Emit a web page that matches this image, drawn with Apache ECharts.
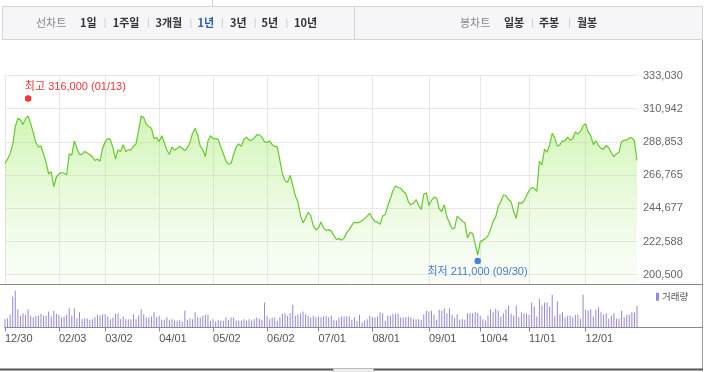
<!DOCTYPE html>
<html><head><meta charset="utf-8">
<script src="https://cdn.jsdelivr.net/npm/echarts@6/dist/echarts.min.js"></script>
<style>html,body{margin:0;padding:0;background:#fff}#c{width:706px;height:372px}</style>
</head><body><div id="c"></div><script>
// ---------- data ----------
const dates = ['12/30',
'01/03','01/04','01/05','01/06','01/07','01/10','01/11','01/12','01/13','01/14','01/17','01/18','01/19','01/20','01/21','01/24','01/25','01/26','01/27','01/28',
'02/03','02/04','02/07','02/08','02/09','02/10','02/11','02/14','02/15','02/16','02/17','02/18','02/21','02/22','02/23','02/24','02/25','02/28',
'03/02','03/03','03/04','03/07','03/08','03/10','03/11','03/14','03/15','03/16','03/17','03/18','03/21','03/22','03/23','03/24','03/25','03/28','03/29','03/30','03/31',
'04/01','04/04','04/05','04/06','04/07','04/08','04/11','04/12','04/13','04/14','04/15','04/18','04/19','04/20','04/21','04/22','04/25','04/26','04/27','04/28','04/29',
'05/02','05/03','05/04','05/06','05/09','05/10','05/11','05/12','05/13','05/16','05/17','05/18','05/19','05/20','05/23','05/24','05/25','05/26','05/27','05/30','05/31',
'06/02','06/03','06/07','06/08','06/09','06/10','06/13','06/14','06/15','06/16','06/17','06/20','06/21','06/22','06/23','06/24','06/27','06/28','06/29','06/30',
'07/01','07/04','07/05','07/06','07/07','07/08','07/11','07/12','07/13','07/14','07/15','07/18','07/19','07/20','07/21','07/22','07/25','07/26','07/27','07/28','07/29',
'08/01','08/02','08/03','08/04','08/05','08/08','08/09','08/10','08/11','08/12','08/16','08/17','08/18','08/19','08/22','08/23','08/24','08/25','08/26','08/29','08/30','08/31',
'09/01','09/02','09/05','09/06','09/07','09/08','09/13','09/14','09/15','09/16','09/19','09/20','09/21','09/22','09/23','09/26','09/27','09/28','09/29','09/30',
'10/04','10/05','10/06','10/07','10/11','10/12','10/13','10/14','10/17','10/18','10/19','10/20','10/21','10/24','10/25','10/26','10/27','10/28','10/31',
'11/01','11/02','11/03','11/04','11/07','11/08','11/09','11/10','11/11','11/14','11/15','11/16','11/17','11/18','11/21','11/22','11/23','11/24','11/25','11/28','11/29','11/30',
'12/01','12/02','12/05','12/06','12/07','12/08','12/09','12/12','12/13','12/14','12/15','12/16','12/19','12/20','12/21','12/22','12/23','12/26','12/27','12/28','12/29'];

const closes = [
274500,277500,281000,287000,299000,304500,303500,300500,304500,306000,
301000,295000,288500,285500,286000,281000,275000,267500,269000,259000,
265500,267500,268500,268000,267000,281000,280000,289500,284500,280500,
280500,282500,281500,280500,279000,276500,277500,276000,284500,289000,
291000,290500,285000,277500,283500,282500,287000,282500,283500,283500,
286000,287500,296500,306000,305000,300500,299000,298000,291000,292000,
289000,293000,288500,283500,280500,285500,283500,284500,286000,284500,
283000,285000,288500,294500,298000,293500,286000,283500,279000,289500,
293000,291000,291000,290500,285500,281000,276000,274000,274500,280500,
285500,287500,286000,290500,292000,290000,290000,291500,293500,293500,
292000,289000,288500,289500,287000,286000,285500,276500,267500,263000,
262000,266500,260000,253000,249000,240000,235000,238000,242000,240000,
233000,230500,231500,235500,231500,230000,230500,229500,226500,224000,
224500,223500,225000,228500,230500,233500,235500,235000,235500,236500,
238000,239500,241500,238000,236000,235500,234000,239500,240500,246500,
251000,256500,259500,258500,258000,256000,254500,249000,247000,248000,
250500,246500,244000,254000,255000,246500,250000,252000,251500,244500,
242500,247000,239000,235000,231000,231500,239500,238000,236000,235000,
225000,228500,228000,221000,213500,222500,223500,224500,226500,230500,
236000,239000,246000,249000,253500,253000,250500,249000,242500,238000,
248500,248000,249500,253000,256500,258500,258000,256000,276000,273500,
284000,282000,287000,294500,291500,286000,287000,289500,289500,292000,
290000,291000,295500,294000,296000,299500,301000,295500,293000,287000,
289500,286500,284500,284000,286500,285000,281500,279000,281000,282000,
289000,290000,290000,291500,291500,289500,276500];

// volume, thousands of shares
const volumes = [
250,280,380,930,1100,550,350,430,380,550,
350,310,350,350,410,350,350,480,330,500,
410,380,310,330,380,580,350,580,280,460,
250,280,280,230,250,310,380,350,400,400,
330,250,300,410,430,250,330,250,250,250,
400,250,360,550,400,300,300,330,460,310,
350,230,230,310,230,250,210,210,230,180,
500,230,280,250,460,300,300,350,380,380,
200,250,180,230,210,200,310,230,300,300,
210,210,210,250,210,250,210,250,300,260,
230,750,350,250,300,300,200,310,410,430,
350,430,680,350,380,430,480,400,350,300,
350,310,330,310,330,350,310,350,230,210,
300,330,330,330,330,230,310,200,380,150,
210,250,350,310,310,330,460,430,200,360,
350,410,400,410,300,300,310,330,300,250,
250,250,230,400,500,480,500,380,230,530,
500,580,430,580,380,280,400,230,250,230,
430,430,430,460,430,350,250,210,360,550,
460,560,500,330,430,550,660,410,350,660,
310,460,430,410,380,750,630,330,860,660,
750,750,630,980,350,780,400,460,300,350,
350,300,380,380,260,980,530,510,550,330,
530,610,460,380,430,260,350,430,260,260,
500,310,380,380,460,450,650];

const monthTickDates = ['12/30','02/03','03/02','04/01','05/02','06/02','07/01','08/01','09/01','10/04','11/01','12/01'];
const priceTickLabels = ['200,500','222,588','244,677','266,765','288,853','310,942','333,030'];
const priceAxisMin = 200500, priceAxisMax = 333030;
const highPoint = {date:'01/13', value:316000, name:'최고'};
const lowPoint = {date:'09/30', value:211000, name:'최저'};
const volumeName = '거래량';
const lineChartTabs = ['1일','1주일','3개월','1년','3년','5년','10년'];
const candleChartTabs = ['일봉','주봉','월봉'];
const selectedTab = '1년';

// ---------- layout ----------
const GL = 5, GR = 69;
const mainTop = 75.5, labelH = 199.2, mainH = 208.8;
const mainMin = priceAxisMax - (priceAxisMax - priceAxisMin) * mainH / labelH;
const volTop = 290.8, volH = 36.7;
const FONT = '"Liberation Sans", Arial, "Noto Sans CJK KR", sans-serif';
const KFONT = '"Noto Sans CJK KR", sans-serif';
const isMonthTick = (i, v) => monthTickDates.indexOf(v) >= 0;
const fmt = n => n.toLocaleString('en-US');

const chart = echarts.init(document.getElementById('c'), null, {renderer:'canvas'});

// tab bar graphics
const tabX = {'1일':80,'1주일':112.7,'3개월':155.5,'1년':197.5,'3년':230,'5년':261.5,'10년':294,'일봉':504,'주봉':539,'월봉':577};
const sepX = [104.6,147.9,190.3,221.8,254.7,286.3,532,569];
const TY = 23;
const graphics = [
  {type:'line', shape:{x1:212.5,y1:0,x2:212.5,y2:7}, style:{stroke:'#d0d0d0',lineWidth:1}},
  {type:'rect', shape:{x:2.5,y:6.5,width:700,height:33}, style:{fill:'#f6f6f8',stroke:'#d5d5d8',lineWidth:1}},
  {type:'line', shape:{x1:354.5,y1:7,x2:354.5,y2:39}, style:{stroke:'#d5d5d8',lineWidth:1}},
  {type:'text', x:36, y:TY, style:{text:'선차트', fill:'#888', font:'11px '+KFONT, verticalAlign:'middle'}},
  {type:'text', x:460, y:TY, style:{text:'봉차트', fill:'#888', font:'11px '+KFONT, verticalAlign:'middle'}}
];
lineChartTabs.concat(candleChartTabs).forEach(t => {
  graphics.push({type:'text', x:tabX[t], y:TY, style:{text:t, fill: t===selectedTab?'#2d5bb5':'#333', font:'bold 11px '+KFONT, verticalAlign:'middle'}});
});
sepX.forEach(x => graphics.push({type:'line', shape:{x1:x+0.5,y1:18,x2:x+0.5,y2:28}, style:{stroke:'#d0d0d0',lineWidth:1}}));
graphics.push(
  {type:'line', z:100, shape:{x1:702.5,y1:40,x2:702.5,y2:369}, style:{stroke:'#9a9a9a',lineWidth:1}},
  {type:'line', z:100, shape:{x1:0,y1:284.5,x2:703,y2:284.5}, style:{stroke:'#888',lineWidth:1}},
  {type:'line', z:100, shape:{x1:637,y1:327.5,x2:703,y2:327.5}, style:{stroke:'#888',lineWidth:1}},
  {type:'line', z:100, shape:{x1:0,y1:369.5,x2:703,y2:369.5}, style:{stroke:'#555',lineWidth:2}},
  {type:'rect', z:101, shape:{x:333.5,y:368.5,width:40,height:5}, style:{fill:'#eeeeee',stroke:'#bbbbbb',lineWidth:1}}
);

const hi = dates.indexOf(highPoint.date), lo = dates.indexOf(lowPoint.date);

chart.setOption({
  animation:false,
  textStyle:{fontFamily:FONT},
  graphic: graphics,
  legend:{data:[volumeName], left:656, top:292, padding:0, itemWidth:3, itemHeight:8, icon:'rect',
    textStyle:{fontSize:9.5, color:'#555', fontFamily:KFONT, padding:[0,0,0,-2]}},
  grid:[
    {left:GL, right:GR, top:mainTop, height:mainH},
    {left:GL, right:GR, top:mainTop, height:labelH},
    {left:GL, right:GR, top:volTop, height:volH}
  ],
  xAxis:[
    {gridIndex:0, type:'category', data:dates, boundaryGap:false,
     axisLine:{show:false}, axisTick:{show:false}, axisLabel:{show:false},
     splitLine:{show:true, interval:isMonthTick, lineStyle:{color:'#e7e7e7', width:1}}},
    {gridIndex:1, type:'value', min:0, max:1, show:false},
    {gridIndex:2, type:'category', data:dates, boundaryGap:false,
     axisLine:{show:true, lineStyle:{color:'#888', width:1}},
     axisTick:{show:true, interval:isMonthTick, length:4, lineStyle:{color:'#888'}},
     axisLabel:{show:true, interval:isMonthTick, align:'left', margin:6, color:'#555', fontSize:11, fontFamily:FONT},
     splitLine:{show:false}}
  ],
  yAxis:[
    {gridIndex:0, type:'value', min:mainMin, max:priceAxisMax, show:false, splitLine:{show:false}},
    {gridIndex:1, type:'value', min:0, max:priceTickLabels.length-1, interval:1, position:'right',
     axisLine:{show:false}, axisTick:{show:false},
     axisLabel:{show:true, margin:6, color:'#666', fontSize:11, fontFamily:FONT, formatter:v => priceTickLabels[Math.round(v)]},
     splitLine:{show:true, lineStyle:{color:'#e7e7e7', width:1}}},
    {gridIndex:2, type:'value', min:0, max:1100, show:false, splitLine:{show:false}}
  ],
  series:[
    {type:'line', name:'종가', xAxisIndex:0, yAxisIndex:0, data:closes, symbol:'none', z:3,
     lineStyle:{color:'#66c92c', width:1.2},
     areaStyle:{color:new echarts.graphic.LinearGradient(0,0,0,1,[
       {offset:0,color:'rgba(145,230,75,0.58)'},{offset:1,color:'rgba(190,240,160,0.1)'}])}},
    {type:'scatter', xAxisIndex:0, yAxisIndex:0, z:5, data:[[hi, highPoint.value]], symbolSize:6.5,
     symbolOffset:[0,-2.5], itemStyle:{color:'#ff0000'},
     label:{show:true, position:[0,-8], align:'left', verticalAlign:'middle', color:'#e60000', fontSize:11, fontFamily:FONT,
       formatter:()=> highPoint.name+' '+fmt(highPoint.value)+' ('+highPoint.date+')'}},
    {type:'scatter', xAxisIndex:0, yAxisIndex:0, z:5, data:[[lo, lowPoint.value]], symbolSize:6.5,
     symbolOffset:[0,2], itemStyle:{color:'#1a62d6'},
     label:{show:true, position:[3,14], align:'center', verticalAlign:'middle', color:'#1a5cc8', fontSize:11, fontFamily:FONT,
       formatter:()=> lowPoint.name+' '+fmt(lowPoint.value)+' ('+lowPoint.date+')'}},
    {type:'bar', name:volumeName, xAxisIndex:2, yAxisIndex:2, data:volumes, barWidth:1, clip:false,
     itemStyle:{color:'#9a86d2'}}
  ]
});
</script></body></html>
